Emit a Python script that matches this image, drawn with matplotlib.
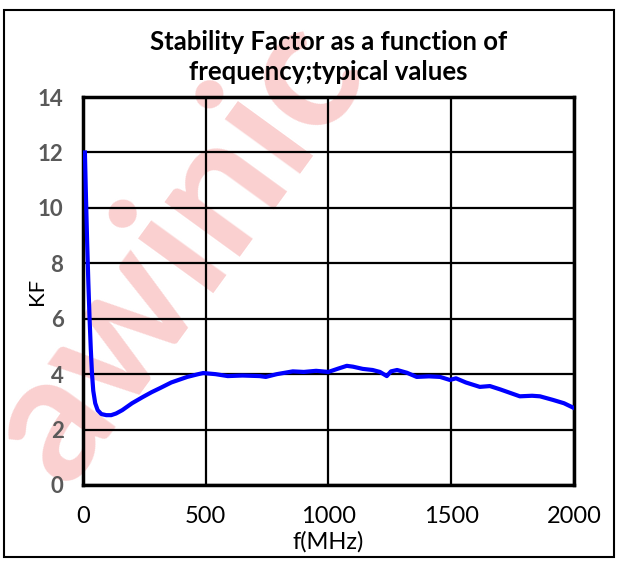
import matplotlib
matplotlib.use("Agg")
import matplotlib.pyplot as plt
from matplotlib.patches import Rectangle

# stability factor
freq_mhz = [8, 12, 17, 22, 27, 32, 37, 42, 50, 60, 75, 95, 115, 135, 160,
            200, 245, 280, 315, 360, 425, 470, 490, 540, 590, 650, 720, 745,
            790, 855, 900, 950, 1000, 1040, 1075, 1100, 1140, 1180, 1210,
            1238, 1255, 1280, 1320, 1360, 1410, 1455, 1495, 1520, 1560, 1617,
            1658, 1700, 1780, 1830, 1862, 1915, 1960, 2000]
kf = [12.0, 10.5, 8.8, 7.3, 6.0, 4.9, 4.0, 3.4, 2.95, 2.7, 2.56, 2.52,
      2.52, 2.58, 2.7, 2.95, 3.18, 3.35, 3.5, 3.7, 3.9, 4.0, 4.04, 4.0,
      3.93, 3.95, 3.93, 3.9, 4.0, 4.1, 4.08, 4.12, 4.08, 4.2, 4.3, 4.27,
      4.19, 4.15, 4.08, 3.93, 4.1, 4.15, 4.05, 3.9, 3.92, 3.9, 3.79, 3.85,
      3.7, 3.54, 3.57, 3.45, 3.2, 3.22, 3.2, 3.07, 2.95, 2.78]

x_ticks = [0, 500, 1000, 1500, 2000]
y_ticks = [0, 2, 4, 6, 8, 10, 12, 14]

plt.rcParams["font.family"] = ["Lato", "DejaVu Sans"]

fig = plt.figure(figsize=(6.19, 5.61), dpi=100)
ax = fig.add_axes([0.134, 0.1355, 0.793, 0.6915])
ax.set_facecolor("none")

# watermark behind the axes
fig.text(0.285, 0.555, "awinic", fontsize=130, fontweight="bold",
         color="#fad0d0", rotation=54, ha="center", va="center", zorder=-1)

ax.plot(freq_mhz, kf, color="#0000ff", linewidth=3, zorder=3)

ax.set_xlim(0, 2000)
ax.set_ylim(0, 14)
ax.set_xticks(x_ticks)
ax.set_yticks(y_ticks)
ax.grid(True, color="black", linewidth=1.6)
ax.set_axisbelow(True)
for s in ax.spines.values():
    s.set_linewidth(2.5)
    s.set_color("black")
ax.tick_params(length=0)
ax.tick_params(axis="y", pad=14, labelsize=16, labelcolor="#595959")
ax.tick_params(axis="x", pad=15, labelsize=17)
for lbl in ax.get_yticklabels():
    lbl.set_fontweight("bold")

ax.set_xlabel("f(MHz)", fontsize=17, labelpad=3)
ax.set_ylabel("KF", fontsize=16, labelpad=-7)
ax.set_title("Stability Factor as a function of\nfrequency;typical values",
             fontsize=18.5, fontweight="bold", pad=12, linespacing=1.3)

# outer chart border
fig.patches.append(Rectangle((0.006, 0.008), 0.986, 0.975, transform=fig.transFigure,
                             fill=False, edgecolor="black", linewidth=1.5))

fig.savefig("out.png", dpi=100)
